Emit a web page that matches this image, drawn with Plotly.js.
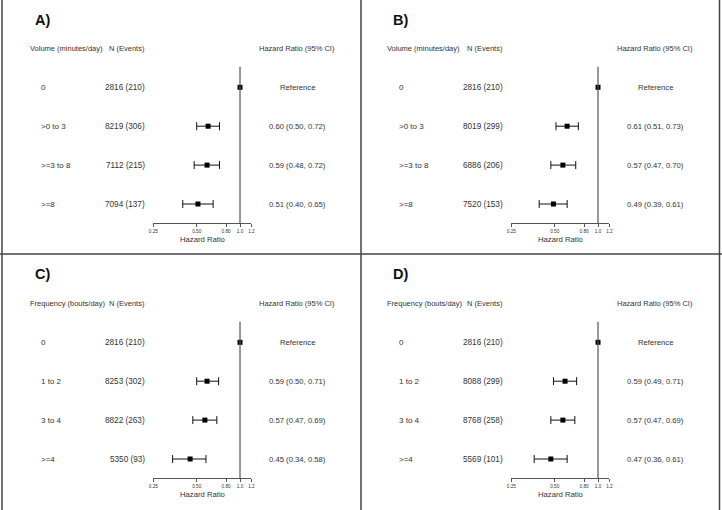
<!DOCTYPE html>
<html>
<head>
<meta charset="utf-8">
<script src="https://cdn.plot.ly/plotly-3.0.1.min.js"></script>
<style>html,body{margin:0;padding:0;background:#fff}#chart{width:722px;height:510px}</style>
</head>
<body>
<div id="chart"></div>
<script>
// ---- Data ----
const panelLabels = ['A)', 'B)', 'C)', 'D)'];
const groupHeaders = ['Volume (minutes/day)', 'Volume (minutes/day)', 'Frequency (bouts/day)', 'Frequency (bouts/day)'];
const volumeCategories = ['0', '>0 to 3', '>=3 to 8', '>=8'];
const frequencyCategories = ['0', '1 to 2', '3 to 4', '>=4'];

const nA = ['2816 (210)', '8219 (306)', '7112 (215)', '7094 (137)'];
const nB = ['2816 (210)', '8019 (299)', '6886 (206)', '7520 (153)'];
const nC = ['2816 (210)', '8253 (302)', '8822 (263)', '5350 (93)'];
const nD = ['2816 (210)', '8088 (299)', '8768 (258)', '5569 (101)'];

const hrA = [1.00, 0.60, 0.59, 0.51];
const loA = [null, 0.50, 0.48, 0.40];
const hiA = [null, 0.72, 0.72, 0.65];

const hrB = [1.00, 0.61, 0.57, 0.49];
const loB = [null, 0.51, 0.47, 0.39];
const hiB = [null, 0.73, 0.70, 0.61];

const hrC = [1.00, 0.59, 0.57, 0.45];
const loC = [null, 0.50, 0.47, 0.34];
const hiC = [null, 0.71, 0.69, 0.58];

const hrD = [1.00, 0.59, 0.57, 0.47];
const loD = [null, 0.49, 0.47, 0.36];
const hiD = [null, 0.71, 0.69, 0.61];

const tickVals = [0.25, 0.50, 0.80, 1.0, 1.2];
const tickLabels = ['0.25', '0.50', '0.80', '1.0', '1.2'];
const xAxisTitle = 'Hazard Ratio';
const nHeader = 'N (Events)';
const hrHeader = 'Hazard Ratio (95% CI)';
const refText = 'Reference';

// ---- Layout helpers ----
const W = 722, H = 510;
const px = x => x / W;
const py = y => 1 - y / H;
const FONT = 'Liberation Sans, Arial, sans-serif';
const TXT = '#333';

const panels = [
  {cats: volumeCategories, n: nA, hr: hrA, lo: loA, hi: hiA, dx: 0, dy: 0},
  {cats: volumeCategories, n: nB, hr: hrB, lo: loB, hi: hiB, dx: 358, dy: 0},
  {cats: frequencyCategories, n: nC, hr: hrC, lo: loC, hi: hiC, dx: 0, dy: 255},
  {cats: frequencyCategories, n: nD, hr: hrD, lo: loD, hi: hiD, dx: 358, dy: 255}
];

// base geometry (panel A, pixels)
const axX0 = 153.4, axX1 = 251.4;
const axY0 = 66.7, axY1 = 223.3;
const row0 = 87.3, rowStep = 38.9;
const yTop = (axY0 - row0) / rowStep, yBot = (axY1 - row0) / rowStep;

const data = [];
const layout = {
  width: W, height: H,
  margin: {l: 0, r: 0, t: 0, b: 0},
  paper_bgcolor: '#fff', plot_bgcolor: 'rgba(0,0,0,0)',
  showlegend: false,
  font: {family: FONT, color: TXT, size: 7.7},
  annotations: [], shapes: []
};

const fmt = v => v.toFixed(2);

panels.forEach((p, i) => {
  const k = i + 1;
  const xa = 'x' + (k === 1 ? '' : k), ya = 'y' + (k === 1 ? '' : k);
  const xName = 'xaxis' + (k === 1 ? '' : k), yName = 'yaxis' + (k === 1 ? '' : k);
  const rows = p.cats.map((_, j) => j);

  layout[xName] = {
    type: 'log',
    domain: [px(axX0 + p.dx), px(axX1 + p.dx)],
    range: [Math.log10(0.25), Math.log10(1.2)],
    anchor: ya,
    showgrid: false, zeroline: false,
    showline: true, linecolor: '#555', linewidth: 1,
    ticks: 'outside', ticklen: 3, tickwidth: 1, tickcolor: '#555',
    tickmode: 'array', tickvals: tickVals, ticktext: tickLabels,
    tickfont: {size: 4.7, color: TXT, family: FONT}
  };
  layout[yName] = {
    domain: [py(axY1 + p.dy), py(axY0 + p.dy)],
    range: [yBot, yTop],
    anchor: xa,
    visible: false, showgrid: false, zeroline: false
  };

  // reference line at HR = 1
  layout.shapes.push({type: 'line', xref: xa, yref: ya + ' domain', x0: 1, x1: 1, y0: 0, y1: 1,
    line: {color: '#555', width: 1.2}});

  // reference point
  data.push({type: 'scatter', mode: 'markers', xaxis: xa, yaxis: ya,
    x: [p.hr[0]], y: [rows[0]], cliponaxis: false,
    marker: {symbol: 'square', size: 5, color: '#000'}, hoverinfo: 'skip'});
  // estimates with CI
  const idx = rows.slice(1);
  data.push({type: 'scatter', mode: 'markers', xaxis: xa, yaxis: ya,
    x: idx.map(j => p.hr[j]), y: idx, cliponaxis: false,
    marker: {symbol: 'square', size: 5, color: '#000'},
    error_x: {type: 'data', symmetric: false,
      array: idx.map(j => p.hi[j] - p.hr[j]),
      arrayminus: idx.map(j => p.hr[j] - p.lo[j]),
      color: '#111', thickness: 1, width: 4},
    hoverinfo: 'skip'});

  const A = (text, x, y, opts = {}) => layout.annotations.push(Object.assign({
    text, x: px(x + p.dx), y: py(y + p.dy), xref: 'paper', yref: 'paper',
    showarrow: false, xanchor: 'left', yanchor: 'middle',
    font: {family: FONT, size: 7.7, color: TXT}
  }, opts));

  A(panelLabels[i], 33, 20.5 - (i >= 2 ? 2 : 0), {font: {family: FONT, size: 14.5, color: '#111', weight: 'bold'}});
  A(groupHeaders[i], 27.5, 48.3, {font: {family: FONT, size: 7.5, color: TXT}});
  A(nHeader, 147, 48.3, {xanchor: 'right', font: {family: FONT, size: 7.5, color: TXT}});
  A(hrHeader, 297, 48.3, {xanchor: 'center', font: {family: FONT, size: 7.5, color: TXT}});

  rows.forEach(j => {
    const y = row0 + rowStep * j;
    A(p.cats[j], 38.5, y, {font: {family: FONT, size: 8, color: TXT}});
    A(p.n[j], 147, y, {xanchor: 'right', font: {family: FONT, size: 8.2, color: TXT}});
    const t = j === 0 ? refText : `${fmt(p.hr[j])} (${fmt(p.lo[j])}, ${fmt(p.hi[j])})`;
    A(t, 297, y, {xanchor: 'center'});
  });
  A(xAxisTitle, 202, 239.5, {xanchor: 'center'});
});

// panel borders
const border = {color: '#444', width: 1.5};
[[2, 0, 2, H], [361, 0, 361, H], [719.5, 0, 719.5, H], [0, 254, W, 254]].forEach(([x0, y0, x1, y1]) => {
  layout.shapes.push({type: 'line', xref: 'paper', yref: 'paper',
    x0: px(x0), x1: px(x1), y0: py(y0), y1: py(y1), line: border});
});

Plotly.newPlot('chart', data, layout, {staticPlot: true, displayModeBar: false});
</script>
</body>
</html>
